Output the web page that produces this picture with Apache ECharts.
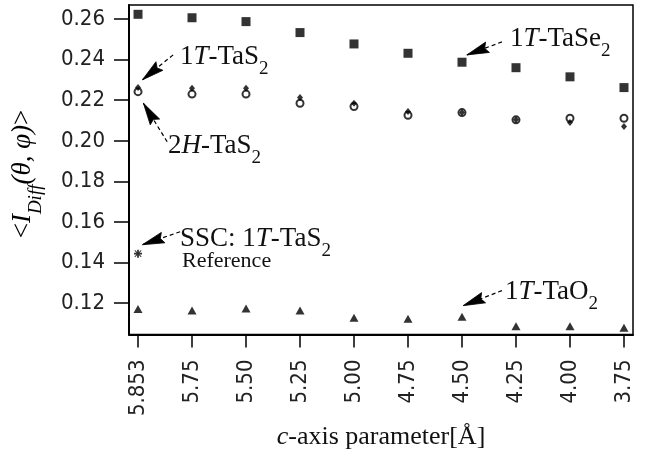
<!DOCTYPE html>
<html>
<head>
<meta charset="utf-8">
<script src="https://cdn.jsdelivr.net/npm/echarts@6/dist/echarts.min.js"></script>
<style>
html,body{margin:0;padding:0;background:#fff;}
#c{width:654px;height:455px;}
</style>
</head>
<body>
<div id="c"></div>
<script>
// ---- data ----
var xLabels = ['5.853', '5.75', '5.50', '5.25', '5.00', '4.75', '4.50', '4.25', '4.00', '3.75'];
var yTicks = [0.12, 0.14, 0.16, 0.18, 0.20, 0.22, 0.24, 0.26];
var taSe2_1T = [0.2623, 0.2606, 0.2587, 0.2533, 0.2477, 0.2431, 0.2387, 0.2360, 0.2315, 0.2262];
var taS2_1T = [0.2262, 0.2259, 0.2259, 0.2213, 0.2185, 0.2144, 0.2139, 0.2103, 0.2090, 0.2070];
var taS2_2H = [0.2242, 0.2230, 0.2230, 0.2185, 0.2169, 0.2126, 0.2139, 0.2103, 0.2111, 0.2111];
var taO2_1T = [0.1172, 0.1164, 0.1174, 0.1164, 0.1128, 0.1123, 0.1133, 0.1087, 0.1087, 0.1079];
var sscRef = [0.1444];

// annotation arrows in data coordinates: [tailX, tailY, tipX, tipY]
var arrows = [
  [0.65, 0.2423, 0.08, 0.2300],
  [0.54, 0.1995, 0.10, 0.2185],
  [0.78, 0.1552, 0.08, 0.1488],
  [6.74, 0.2487, 6.09, 0.2423],
  [6.74, 0.1262, 6.02, 0.1188]
];

function pts(arr) { return arr.map(function (v, i) { return [i, v]; }); }

var serif = 'Liberation Serif';
var tickFont = 'Liberation Sans Narrow, DejaVu Sans Condensed, sans-serif';
var richMain = {
  n: { fontFamily: serif, fontSize: 27, lineHeight: 30, verticalAlign: 'top', color: '#111' },
  i: { fontFamily: serif, fontSize: 27, lineHeight: 30, verticalAlign: 'top', fontStyle: 'italic', color: '#111' },
  s: { fontFamily: serif, fontSize: 19, lineHeight: 36, verticalAlign: 'bottom', color: '#111' }
};
function label(text, x, yc) {
  return { type: 'text', left: x, top: yc - 12, silent: true,
    style: { text: text, rich: richMain, fill: '#111' } };
}

var asterisk = 'path://M3.5,0H5.5V9H3.5Z M0,3.5H9V5.5H0Z M1.2,0.5L8.5,7.8L7.8,8.5L0.5,1.2Z M7.8,0.5L8.5,1.2L1.2,8.5L0.5,7.8Z';

var baseGraphic = [
  { type: 'text', x: 27, y: 174, rotation: Math.PI / 2, silent: true,
    style: { text: '{n|<}{i|I}{s|Diff}{i|(θ, φ)}{n|>}', align: 'center', verticalAlign: 'middle',
      rich: {
        n: { fontFamily: serif, fontSize: 27, lineHeight: 30, verticalAlign: 'top', color: '#111' },
        i: { fontFamily: serif, fontSize: 27, lineHeight: 30, verticalAlign: 'top', fontStyle: 'italic', color: '#111' },
        s: { fontFamily: serif, fontSize: 19, lineHeight: 36, verticalAlign: 'bottom', fontStyle: 'italic', color: '#111' }
      } } },
  label('{n|1}{i|T}{n|-TaS}{s|2}', 180, 55),
  label('{n|2}{i|H}{n|-TaS}{s|2}', 168, 144),
  label('{n|SSC: 1}{i|T}{n|-TaS}{s|2}', 180, 237),
  { type: 'text', left: 182, top: 250, silent: true, style: { text: 'Reference', fontFamily: serif, fontSize: 22, fill: '#111' } },
  label('{n|1}{i|T}{n|-TaSe}{s|2}', 510, 37),
  label('{n|1}{i|T}{n|-TaO}{s|2}', 505, 290)
];

var chart = echarts.init(document.getElementById('c'), null, { renderer: 'canvas' });
chart.setOption({
  animation: false,
  backgroundColor: '#fff',
  grid: { left: 129, right: 21, top: 5, bottom: 120, show: true, borderColor: '#000', borderWidth: 1.5, containLabel: false },
  xAxis: {
    type: 'value', min: -0.167, max: 9.167,
    name: '{i|c}{n|-axis parameter[Å]}', nameLocation: 'middle', nameGap: 102,
    nameTextStyle: { verticalAlign: 'middle', rich: {
      i: { fontFamily: serif, fontSize: 26, fontStyle: 'italic', color: '#111' },
      n: { fontFamily: serif, fontSize: 26, color: '#111' } } },
    axisLine: { show: true, onZero: false, lineStyle: { color: '#000', width: 2 } },
    axisTick: { show: true, length: 13, lineStyle: { color: '#000', width: 1.5 }, customValues: xLabels.map(function (s, i) { return i; }) },
    axisLabel: { rotate: 90, margin: 25, fontFamily: tickFont, fontSize: 22, color: '#222',
      customValues: xLabels.map(function (s, i) { return i; }),
      formatter: function (v) { return xLabels[Math.round(v)]; } },
    splitLine: { show: false }
  },
  yAxis: {
    type: 'value', min: 0.10461, max: 0.26688,
    axisLine: { show: true, onZero: false, lineStyle: { color: '#000', width: 2 } },
    axisTick: { show: true, length: 15, lineStyle: { color: '#000', width: 1.5 }, customValues: yTicks },
    axisLabel: { margin: 24, fontFamily: tickFont, fontSize: 22, color: '#222', customValues: yTicks,
      formatter: function (v) { return v.toFixed(2); } },
    splitLine: { show: false }
  },
  graphic: baseGraphic,
  series: [
    { name: '1T-TaSe2', type: 'scatter', data: pts(taSe2_1T), symbol: 'rect', symbolSize: 9,
      itemStyle: { color: '#000' }, silent: true,
      markLine: { silent: true, animation: false, label: { show: false }, symbol: ['none', 'none'],
        lineStyle: { color: '#000', width: 1.2, type: [4, 3] }, emphasis: { disabled: true },
        data: arrows.map(function (a) { return [{ coord: [a[0], a[1]] }, { coord: [a[2], a[3]] }]; }) } },
    { name: '2H-TaS2', type: 'scatter', data: pts(taS2_2H), symbol: 'emptyCircle', symbolSize: 7,
      itemStyle: { color: '#000', borderColor: '#000', borderWidth: 1.5 }, silent: true },
    { name: '1T-TaS2', type: 'scatter', data: pts(taS2_1T), symbol: 'diamond', symbolSize: [6, 7],
      itemStyle: { color: '#000' }, silent: true },
    { name: 'SSC: 1T-TaS2 Reference', type: 'scatter', data: pts(sscRef), symbol: asterisk, symbolSize: 8,
      itemStyle: { color: '#000' }, silent: true },
    { name: '1T-TaO2', type: 'scatter', data: pts(taO2_1T), symbol: 'triangle', symbolSize: [9, 8],
      itemStyle: { color: '#000' }, silent: true }
  ]
});

// arrowheads: long filled wedges placed through the chart's own coordinate conversion
var heads = arrows.map(function (a) {
  var p0 = chart.convertToPixel({ gridIndex: 0 }, [a[0], a[1]]);
  var p1 = chart.convertToPixel({ gridIndex: 0 }, [a[2], a[3]]);
  var dx = p1[0] - p0[0], dy = p1[1] - p0[1];
  var L = Math.sqrt(dx * dx + dy * dy); dx /= L; dy /= L;
  var len = 22, hw = 5.5, notch = 19;
  var bx = p1[0] - dx * len, by = p1[1] - dy * len;
  var nx = p1[0] - dx * notch, ny = p1[1] - dy * notch;
  return { type: 'polygon', silent: true, z: 10,
    shape: { points: [[p1[0], p1[1]], [bx - dy * hw, by + dx * hw], [nx, ny], [bx + dy * hw, by - dx * hw]] },
    style: { fill: '#000', stroke: '#000', lineWidth: 0.8 } };
});
chart.setOption({ graphic: baseGraphic.concat(heads) }, { replaceMerge: ['graphic'] });
</script>
</body>
</html>
